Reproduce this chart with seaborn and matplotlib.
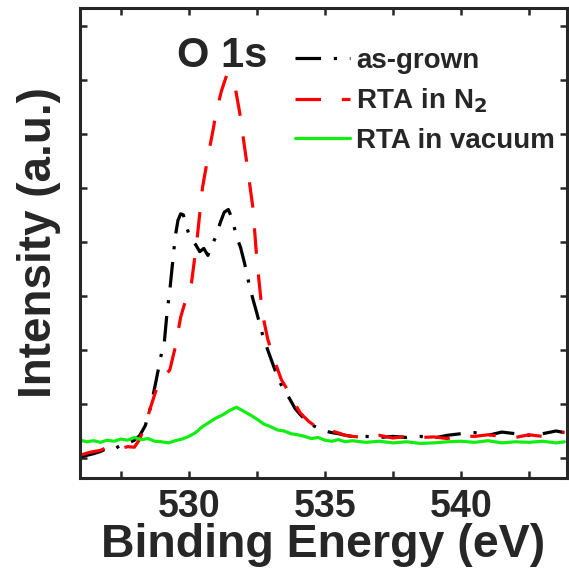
import matplotlib
matplotlib.use('Agg')
import matplotlib.pyplot as plt
from matplotlib.ticker import MultipleLocator, NullFormatter
import seaborn as sns

# ---------------- data ----------------
asgrown_e = [526.0, 526.25, 526.5, 526.75, 527.0, 527.25, 527.5, 527.75, 528.0, 528.2,
             528.4, 528.6, 528.8, 529.0, 529.1, 529.2, 529.3, 529.4, 529.5, 529.6,
             529.7, 529.8, 529.9, 530.0, 530.1, 530.25, 530.4, 530.55, 530.7, 530.85,
             531.0, 531.15, 531.3, 531.45, 531.6, 531.75, 531.9, 532.05, 532.2, 532.35,
             532.5, 532.7, 532.9, 533.1, 533.3, 533.5, 533.7, 533.9, 534.1, 534.3,
             534.5, 534.75, 535.0, 535.25, 535.5, 535.75, 536.0, 536.5, 537.0, 537.5,
             538.0, 538.5, 539.0, 539.5, 540.0, 540.5, 541.0, 541.5, 542.0, 542.5,
             543.0, 543.5, 543.8]
asgrown_i = [1.02, 1.05, 1.08, 1.12, 1.18, 1.16, 1.24, 1.27, 1.33, 1.42,
             1.60, 1.95, 2.44, 2.95, 3.15, 3.70, 4.10, 4.60, 5.10, 5.40,
             5.52, 5.50, 5.30, 5.15, 5.05, 4.95, 4.82, 4.88, 4.75, 4.95,
             5.10, 5.35, 5.55, 5.60, 5.42, 5.10, 4.90, 4.60, 4.25, 3.95,
             3.68, 3.30, 3.00, 2.72, 2.45, 2.25, 2.10, 1.92, 1.80, 1.70,
             1.62, 1.55, 1.50, 1.47, 1.45, 1.42, 1.40, 1.40, 1.38, 1.40,
             1.38, 1.40, 1.37, 1.42, 1.45, 1.47, 1.42, 1.48, 1.45, 1.42,
             1.45, 1.50, 1.47]

n2_e = [526.0, 526.25, 526.5, 526.75, 527.0, 527.25, 527.5, 527.75, 528.0, 528.2,
        528.45, 528.6, 528.8, 529.0, 529.3, 529.5, 529.7, 529.9, 530.1, 530.3,
        530.5, 530.7, 530.9, 531.0, 531.2, 531.4, 531.55, 531.7, 531.87, 532.1,
        532.35, 532.5, 532.7, 532.9, 533.1, 533.4, 533.7, 533.9, 534.1, 534.4,
        534.7, 535.0, 535.4, 535.75, 536.0, 536.5, 537.0, 537.5, 538.0, 538.5,
        539.0, 539.5, 540.0, 540.5, 541.0, 541.5, 542.0, 542.5, 543.0, 543.5,
        543.8]
n2_i = [1.05, 1.09, 1.12, 1.14, 1.20, 1.22, 1.18, 1.21, 1.20, 1.35,
        1.70, 1.95, 2.26, 2.45, 2.63, 3.05, 3.61, 3.95, 4.25, 5.04,
        6.00, 6.57, 7.10, 7.39, 7.80, 8.10, 8.05, 7.87, 7.39, 6.57,
        5.65, 4.67, 3.68, 3.20, 2.87, 2.45, 2.20, 2.00, 1.83, 1.68,
        1.57, 1.52, 1.48, 1.42, 1.40, 1.38, 1.42, 1.37, 1.40, 1.38,
        1.39, 1.36, 1.41, 1.40, 1.43, 1.40, 1.38, 1.43, 1.40, 1.45,
        1.48]

vac_e = [526.0, 526.25, 526.5, 526.75, 527.0, 527.25, 527.5, 527.75, 528.0, 528.25,
         528.5, 528.75, 529.0, 529.25, 529.5, 529.75, 530.0, 530.25, 530.5, 530.75,
         531.0, 531.25, 531.5, 531.75, 532.0, 532.25, 532.5, 532.75, 533.0, 533.25,
         533.5, 533.75, 534.0, 534.25, 534.5, 534.75, 535.0, 535.25, 535.5, 535.75,
         536.0, 536.5, 537.0, 537.5, 538.0, 538.5, 539.0, 539.5, 540.0, 540.5,
         541.0, 541.5, 542.0, 542.5, 543.0, 543.5, 543.8]
vac_i = [1.33, 1.30, 1.32, 1.29, 1.33, 1.31, 1.35, 1.33, 1.38, 1.34,
         1.36, 1.31, 1.30, 1.28, 1.32, 1.35, 1.40, 1.47, 1.58, 1.66,
         1.74, 1.80, 1.88, 1.94, 1.87, 1.80, 1.72, 1.63, 1.58, 1.52,
         1.50, 1.45, 1.43, 1.40, 1.36, 1.38, 1.33, 1.31, 1.34, 1.30,
         1.32, 1.29, 1.31, 1.28, 1.30, 1.27, 1.28, 1.30, 1.31, 1.29,
         1.32, 1.28, 1.30, 1.29, 1.31, 1.28, 1.30]

labels = ['as-grown', 'RTA in N$_2$', 'RTA in vacuum']

# ---------------- style ----------------
sns.set_style('ticks')
plt.rcParams['font.family'] = ['Liberation Sans', 'DejaVu Sans']
plt.rcParams['font.weight'] = 'bold'
plt.rcParams['mathtext.default'] = 'bf'
plt.rcParams['axes.linewidth'] = 2.2

fig = plt.figure(figsize=(5.69, 5.71), dpi=100)
ax = fig.add_axes([0.1406, 0.1629, 0.856, 0.823])

lw = 2.3
sns.lineplot(x=asgrown_e, y=asgrown_i, ax=ax, color='black', linewidth=lw,
             linestyle=(0, (8, 4, 1, 4)), label=labels[0])
sns.lineplot(x=n2_e, y=n2_i, ax=ax, color='#ff0000', linewidth=lw,
             linestyle=(0, (8, 6.5)), label=labels[1])
sns.lineplot(x=vac_e, y=vac_i, ax=ax, color='#11ee11', linewidth=lw,
             linestyle='-', label=labels[2])

ax.set_xlim(526, 543.9)
ax.set_ylim(0.63, 9.33)
ax.xaxis.set_major_locator(MultipleLocator(5))
ax.xaxis.set_minor_locator(MultipleLocator(2.5))
ax.yaxis.set_major_locator(MultipleLocator(1))
ax.yaxis.set_major_formatter(NullFormatter())
ax.tick_params(which='both', direction='in', top=True, right=True,
               length=5, width=1.8)
ax.tick_params(axis='x', which='major', labelsize=27, pad=8)

ax.set_xlabel('Binding Energy (eV)', fontsize=33.5, fontweight='bold')
ax.set_ylabel('Intensity (a.u.)', fontsize=33, fontweight='bold')
ax.xaxis.set_label_coords(0.5, -0.095)
ax.yaxis.set_label_coords(-0.04, 0.5)

ax.text(0.2916, 0.897, 'O 1s', transform=ax.transAxes, fontsize=30,
        fontweight='bold', ha='center', va='center')

ax.legend(loc='upper left', bbox_to_anchor=(0.441, 0.915), frameon=False,
          fontsize=20, handlelength=2.0, handletextpad=0.2,
          labelspacing=0.45, borderpad=0, borderaxespad=0)

plt.savefig('out.png', dpi=100)
plt.close()
